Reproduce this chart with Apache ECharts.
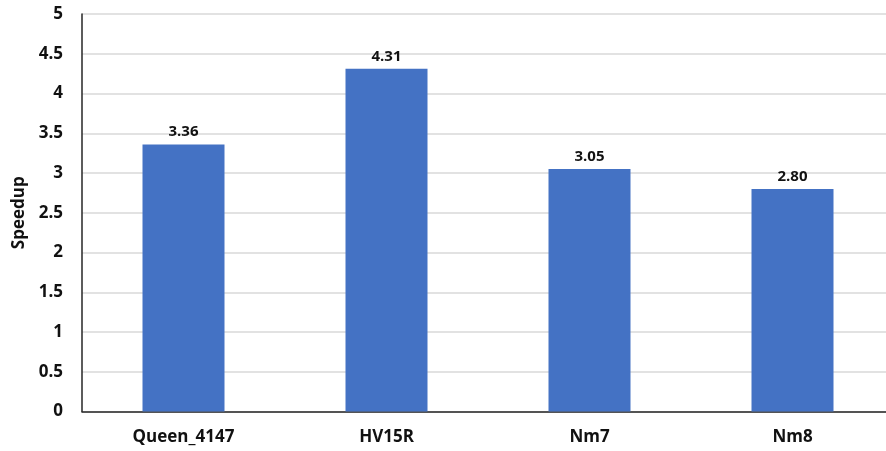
<!DOCTYPE html>
<html>
<head>
<meta charset="utf-8">
<script src="https://cdn.jsdelivr.net/npm/echarts@6/dist/echarts.min.js"></script>
<style>
  html, body { margin: 0; padding: 0; background: #fff; }
  #chart { width: 886px; height: 451px; }
</style>
</head>
<body>
<div id="chart"></div>
<script>
// 数据
const categories = ['Queen_4147', 'HV15R', 'Nm7', 'Nm8']
const speedup = [3.36, 4.31, 3.05, 2.80]
const yTicks = [0, 0.5, 1, 1.5, 2, 2.5, 3, 3.5, 4, 4.5, 5]

const fontFamily = '"Open Sans", Lato, sans-serif'

const myChart = echarts.init(document.getElementById('chart'))

const options = {
  animation: false,
  grid: {
    left: 82,
    width: 812,
    top: 14,
    bottom: 39.5,
    containLabel: false,
    outerBoundsMode: 'none',
  },
  xAxis: {
    type: 'category',
    data: categories,
    axisLine: { lineStyle: { color: '#262626', width: 1.5 } },
    axisTick: { show: false },
    axisLabel: {
      color: '#111',
      fontSize: 17,
      fontWeight: 'bold',
      fontFamily,
      margin: 17,
    },
  },
  yAxis: {
    type: 'value',
    min: yTicks[0],
    max: yTicks[yTicks.length - 1],
    interval: yTicks[1] - yTicks[0],
    name: 'Speedup',
    nameLocation: 'middle',
    nameGap: 54,
    nameRotate: 90,
    nameTextStyle: {
      color: '#111',
      fontSize: 17,
      fontWeight: 'bold',
      fontFamily,
    },
    axisLine: { show: true, lineStyle: { color: '#262626', width: 1.5 } },
    axisTick: { show: false },
    axisLabel: {
      color: '#111',
      fontSize: 17,
      fontWeight: 'bold',
      fontFamily,
      margin: 19,
    },
    splitLine: { lineStyle: { color: '#d9d9d9', width: 1.5 } },
  },
  series: [
    {
      type: 'bar',
      data: speedup,
      barWidth: 82,
      itemStyle: { color: '#4472C4' },
      label: {
        show: true,
        position: 'top',
        distance: 5,
        color: '#111',
        fontSize: 15,
        fontWeight: 'bold',
        fontFamily,
        formatter: (p) => p.value.toFixed(2),
      },
    },
  ],
}
myChart.setOption(options)
</script>
</body>
</html>
